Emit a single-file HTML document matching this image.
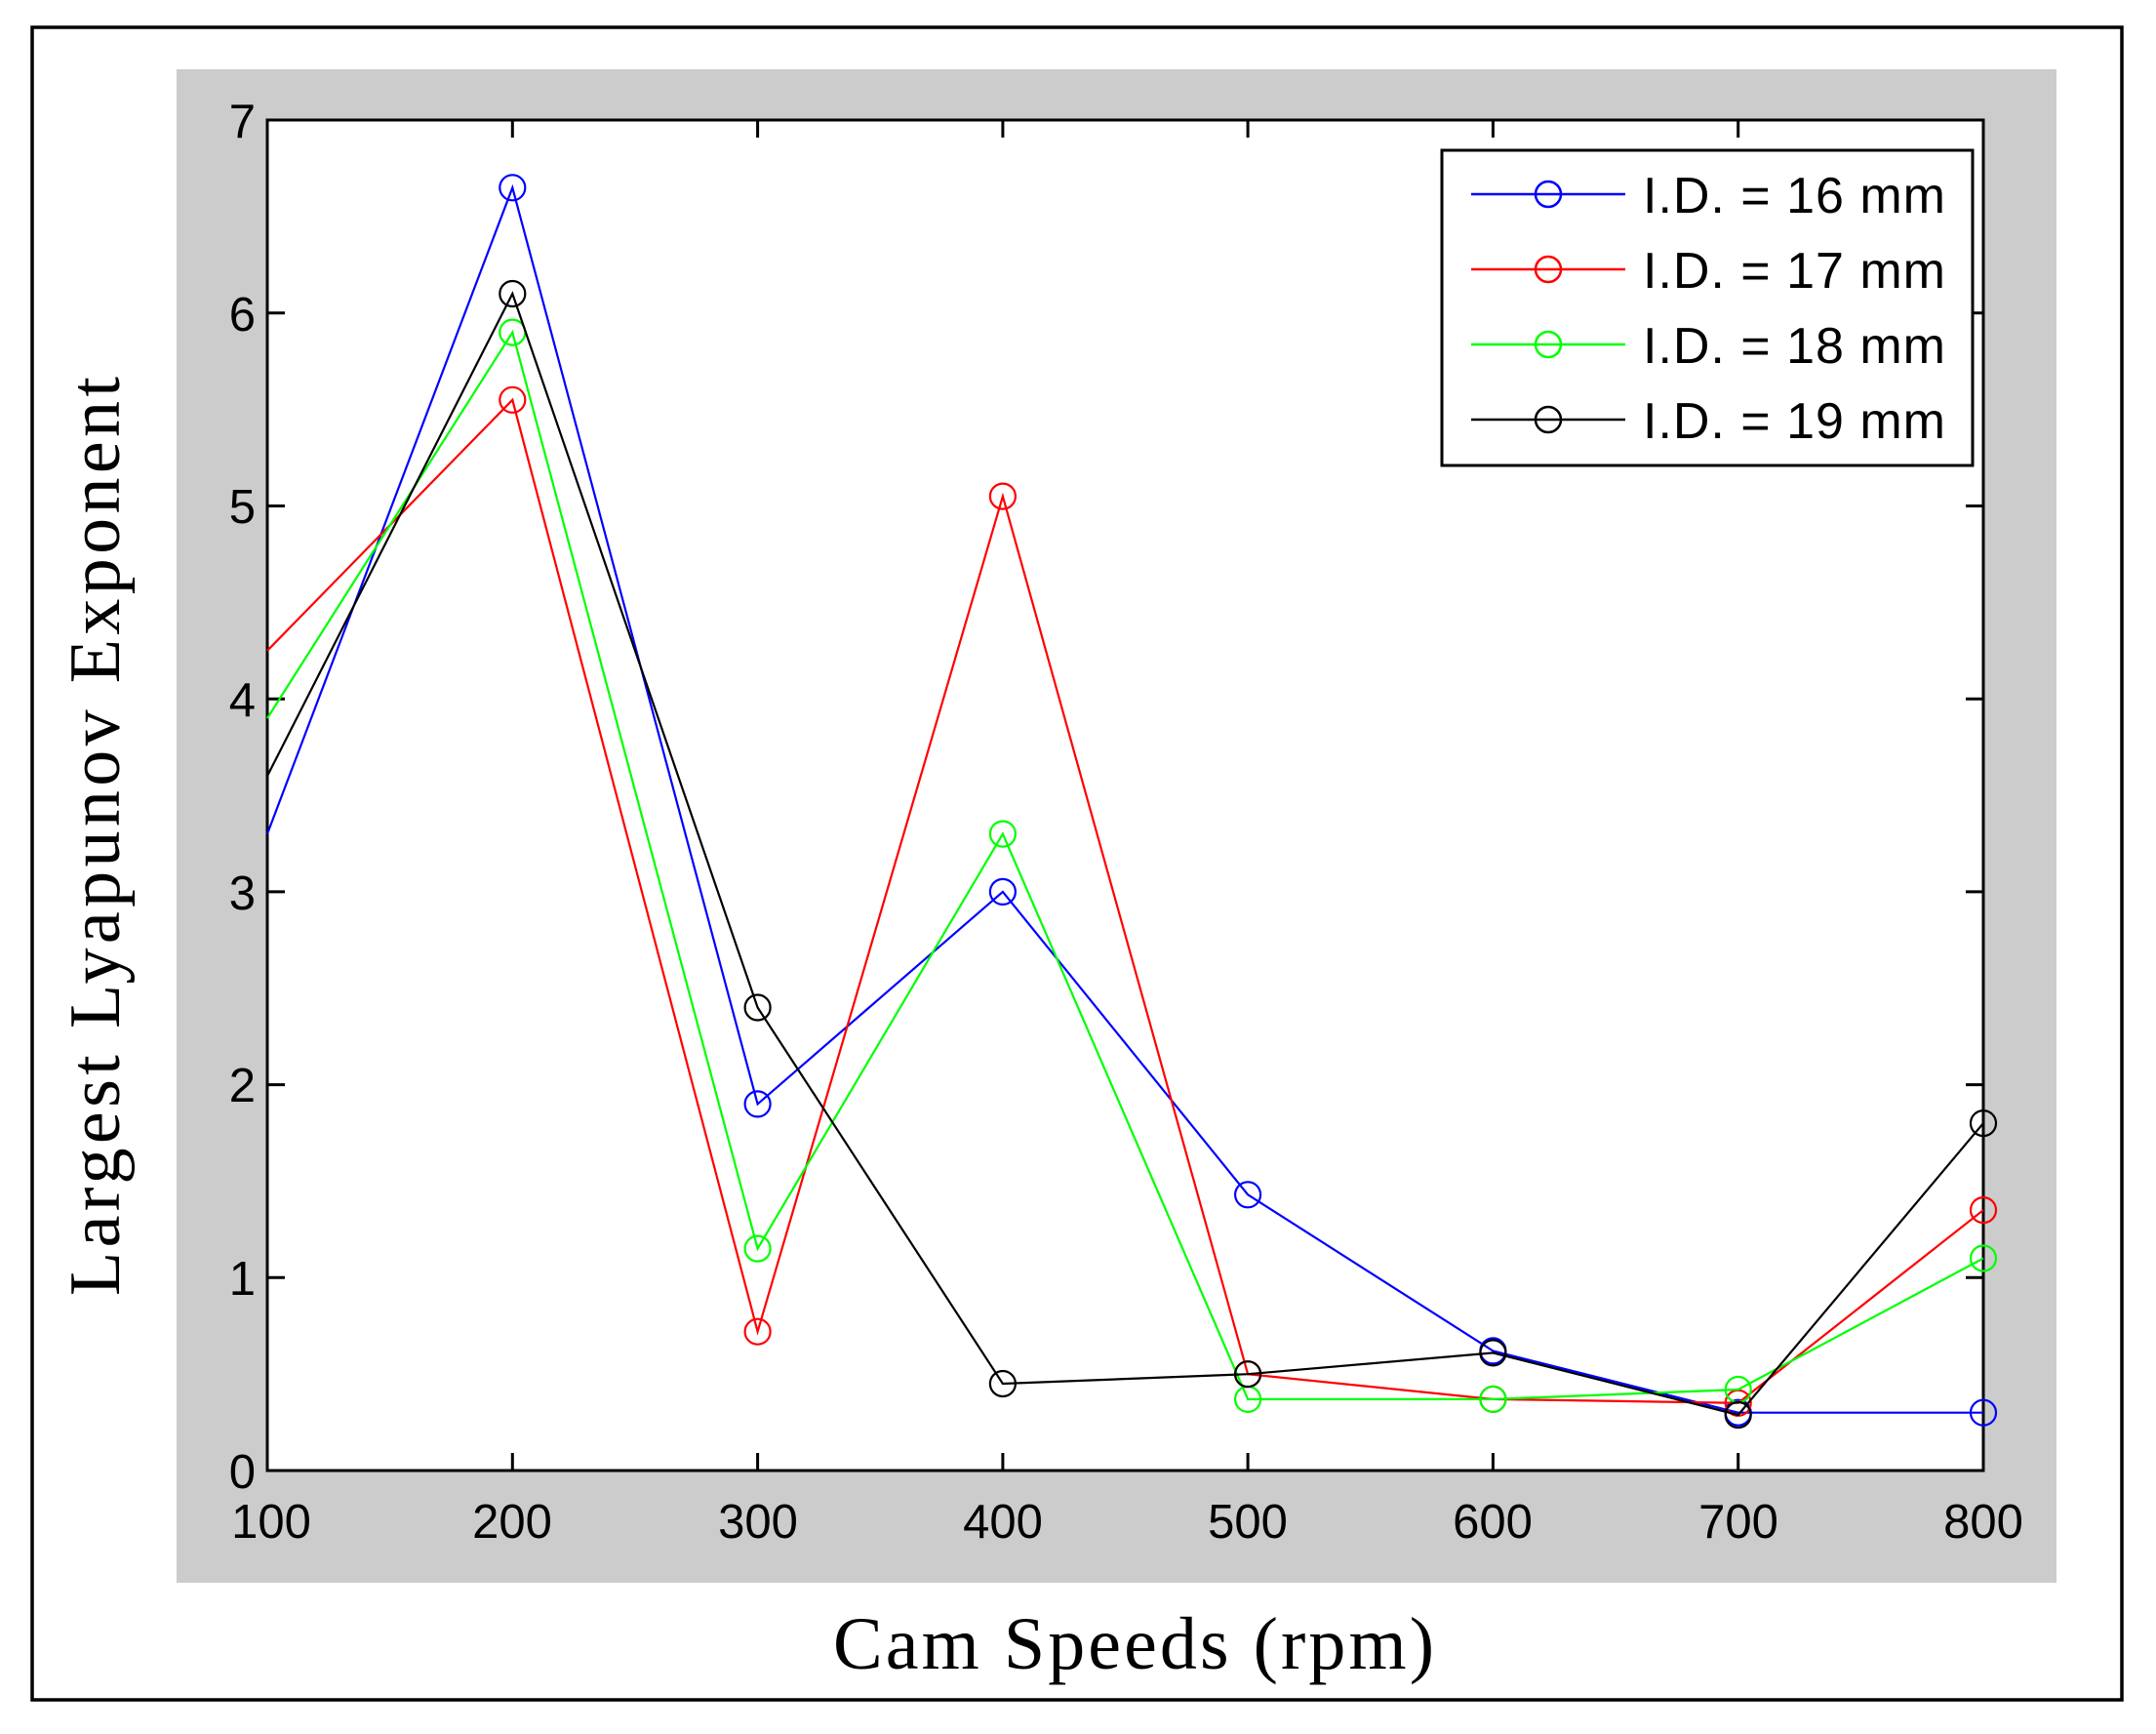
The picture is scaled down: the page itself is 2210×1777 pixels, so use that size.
<!DOCTYPE html>
<html><head><meta charset="utf-8"><style>
html,body{margin:0;padding:0;background:#fff;}
svg{display:block;}
</style></head><body>
<svg width="2210" height="1777" viewBox="0 0 2210 1777" xmlns="http://www.w3.org/2000/svg">
<rect x="0" y="0" width="2210" height="1777" fill="#fff"/>
<rect x="33" y="28" width="2142" height="1714" fill="none" stroke="#000" stroke-width="3.5"/>
<rect x="181" y="71" width="1927" height="1551" fill="#cccccc"/>
<rect x="274" y="123" width="1759" height="1384" fill="#fff" stroke="#000" stroke-width="3"/>
<g stroke="#000" stroke-width="3">
<path d="M525.3 1507v-18M776.6 1507v-18M1027.9 1507v-18M1279.1 1507v-18M1530.4 1507v-18M1781.7 1507v-18"/>
<path d="M525.3 123v18M776.6 123v18M1027.9 123v18M1279.1 123v18M1530.4 123v18M1781.7 123v18"/>
<path d="M274 1309.3h18M274 1111.6h18M274 913.9h18M274 716.2h18M274 518.5h18M274 320.8h18"/>
<path d="M2033 1309.3h-18M2033 1111.6h-18M2033 913.9h-18M2033 716.2h-18M2033 518.5h-18M2033 320.8h-18"/>
</g>
<g font-family="Liberation Sans, Arial, sans-serif" font-size="49" fill="#000" text-anchor="end">
<text x="262" y="1525">0</text>
<text x="262" y="1327">1</text>
<text x="262" y="1129">2</text>
<text x="262" y="932">3</text>
<text x="262" y="734">4</text>
<text x="262" y="536">5</text>
<text x="262" y="339">6</text>
<text x="262" y="141">7</text>
</g>
<g font-family="Liberation Sans, Arial, sans-serif" font-size="49" fill="#000" text-anchor="middle">
<text x="278" y="1576">100</text>
<text x="525" y="1576">200</text>
<text x="777" y="1576">300</text>
<text x="1028" y="1576">400</text>
<text x="1279" y="1576">500</text>
<text x="1530" y="1576">600</text>
<text x="1782" y="1576">700</text>
<text x="2033" y="1576">800</text>
</g>
<g fill="none" stroke-width="2.2">
<polyline stroke="#0000ff" points="274,854.6 525.3,192.3 776.6,1131.4 1027.9,913.9 1279.1,1224.3 1530.4,1384.4 1781.7,1447.7 2033,1447.7"/>
<g stroke="#0000ff"><circle cx="525.3" cy="192.3" r="13"/><circle cx="776.6" cy="1131.4" r="13"/><circle cx="1027.9" cy="913.9" r="13"/><circle cx="1279.1" cy="1224.3" r="13"/><circle cx="1530.4" cy="1384.4" r="13"/><circle cx="1781.7" cy="1447.7" r="13"/><circle cx="2033" cy="1447.7" r="13"/></g>
<polyline stroke="#ff0000" points="274,666.8 525.3,409.8 776.6,1364.7 1027.9,508.6 1279.1,1408.2 1530.4,1433.9 1781.7,1437.8 2033,1240.1"/>
<g stroke="#ff0000"><circle cx="525.3" cy="409.8" r="13"/><circle cx="776.6" cy="1364.7" r="13"/><circle cx="1027.9" cy="508.6" r="13"/><circle cx="1279.1" cy="1408.2" r="13"/><circle cx="1530.4" cy="1433.9" r="13"/><circle cx="1781.7" cy="1437.8" r="13"/><circle cx="2033" cy="1240.1" r="13"/></g>
<polyline stroke="#00ff00" points="274,736 525.3,340.6 776.6,1279.6 1027.9,854.6 1279.1,1433.9 1530.4,1433.9 1781.7,1424 2033,1289.5"/>
<g stroke="#00ff00"><circle cx="525.3" cy="340.6" r="13"/><circle cx="776.6" cy="1279.6" r="13"/><circle cx="1027.9" cy="854.6" r="13"/><circle cx="1279.1" cy="1433.9" r="13"/><circle cx="1530.4" cy="1433.9" r="13"/><circle cx="1781.7" cy="1424" r="13"/><circle cx="2033" cy="1289.5" r="13"/></g>
<polyline stroke="#000" points="274,795.3 525.3,301 776.6,1032.5 1027.9,1418 1279.1,1408.2 1530.4,1386.4 1781.7,1450 2033,1151.1"/>
<g stroke="#000"><circle cx="525.3" cy="301" r="13"/><circle cx="776.6" cy="1032.5" r="13"/><circle cx="1027.9" cy="1418" r="13"/><circle cx="1279.1" cy="1408.2" r="13"/><circle cx="1530.4" cy="1386.4" r="13"/><circle cx="1781.7" cy="1450" r="13"/><circle cx="2033" cy="1151.1" r="13"/></g>
</g>
<rect x="1478" y="154" width="544" height="323" fill="#fff" stroke="#000" stroke-width="3"/>
<g fill="none" stroke-width="2.5">
<path d="M1508 199h158" stroke="#0000ff"/><circle cx="1587" cy="199" r="13" stroke="#0000ff"/>
<path d="M1508 276h158" stroke="#ff0000"/><circle cx="1587" cy="276" r="13" stroke="#ff0000"/>
<path d="M1508 353h158" stroke="#00ff00"/><circle cx="1587" cy="353" r="13" stroke="#00ff00"/>
<path d="M1508 430h158" stroke="#000"/><circle cx="1587" cy="430" r="13" stroke="#000"/>
</g>
<g font-family="Liberation Sans, Arial, sans-serif" font-size="52" fill="#000">
<text x="1684" y="218" textLength="310">I.D. = 16 mm</text>
<text x="1684" y="295" textLength="310">I.D. = 17 mm</text>
<text x="1684" y="372" textLength="310">I.D. = 18 mm</text>
<text x="1684" y="449" textLength="310">I.D. = 19 mm</text>
</g>
<text x="1162" y="1710" font-family="Liberation Serif, 'Times New Roman', serif" font-size="76" text-anchor="middle" textLength="616" fill="#000">Cam Speeds (rpm)</text>
<text transform="translate(122,857) rotate(-90)" x="0" y="0" font-family="Liberation Serif, 'Times New Roman', serif" font-size="74" text-anchor="middle" textLength="942" fill="#000">Largest Lyapunov Exponent</text>
</svg>
</body></html>
